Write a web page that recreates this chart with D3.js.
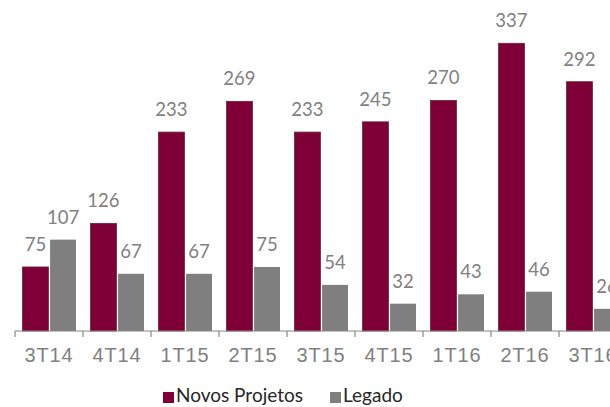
<!DOCTYPE html>
<html>
<head>
<meta charset="utf-8">
<script src="https://cdn.jsdelivr.net/npm/d3@7"></script>
<style>
  body { margin: 0; background: #fff; }
  svg { display: block; }
</style>
</head>
<body>
<div id="chart"></div>
<script>
// values
var categories = ["3T14", "4T14", "1T15", "2T15", "3T15", "4T15", "1T16", "2T16", "3T16"];
var novos = [75, 126, 233, 269, 233, 245, 270, 337, 292];
var legado = [107, 67, 67, 75, 54, 32, 43, 46, 26];
var seriesNames = ["Novos Projetos", "Legado"];
var colors = ["#7f0037", "#7f7f7f"];

var width = 610, height = 407;
var baseY = 331;

var svg = d3.select("#chart").append("svg")
    .attr("width", width)
    .attr("height", height);

var x = d3.scaleBand()
    .domain(categories)
    .range([15, 15 + 68 * categories.length]);

var xs = d3.scaleBand()
    .domain(["novos", "legado"])
    .range([7.5, 61])
    .paddingInner(0.06);

var y = d3.scaleLinear()
    .domain([0, 337])
    .range([baseY, 43.3]);

var rows = categories.map(function(c, i) {
  return { cat: c, novos: novos[i], legado: legado[i] };
});

var groups = svg.append("g").selectAll("g")
    .data(rows)
    .enter().append("g")
    .attr("transform", function(d) { return "translate(" + x(d.cat) + ",0)"; });

// red bars
groups.append("rect")
    .attr("x", xs("novos"))
    .attr("width", xs.bandwidth())
    .attr("y", function(d) { return y(d.novos); })
    .attr("height", function(d) { return baseY - y(d.novos); })
    .attr("fill", colors[0])
    .attr("stroke", "#6a2430")
    .attr("stroke-width", 0.8);

// gray bars
groups.append("rect")
    .attr("x", xs("legado"))
    .attr("width", xs.bandwidth())
    .attr("y", function(d) { return y(d.legado); })
    .attr("height", function(d) { return baseY - y(d.legado); })
    .attr("fill", colors[1]);

// value labels
groups.append("text")
    .attr("x", xs("novos") + xs.bandwidth() / 2)
    .attr("y", function(d) { return y(d.novos) - 16; })
    .attr("text-anchor", "middle")
    .style("font-family", "Lato, 'Open Sans', sans-serif")
    .style("font-size", "18.5px")
    .attr("fill", "#808080")
    .text(function(d) { return d.novos; });

groups.append("text")
    .attr("x", xs("legado") + xs.bandwidth() / 2)
    .attr("y", function(d) { return y(d.legado) - 16; })
    .attr("text-anchor", "middle")
    .style("font-family", "Lato, 'Open Sans', sans-serif")
    .style("font-size", "18.5px")
    .attr("fill", "#808080")
    .text(function(d) { return d.legado; });

// x axis
var axis = svg.append("g").attr("transform", "translate(0," + baseY + ")");
axis.append("line")
    .attr("x1", x.range()[0]).attr("x2", x.range()[1])
    .attr("y1", 0).attr("y2", 0)
    .attr("stroke", "#868686").attr("stroke-width", 1.2);

var bounds = categories.map(function(c) { return x(c); }).concat([x.range()[1]]);
axis.selectAll("line.tick")
    .data(bounds)
    .enter().append("line")
    .attr("class", "tick")
    .attr("x1", function(d) { return d; }).attr("x2", function(d) { return d; })
    .attr("y1", 0).attr("y2", 6)
    .attr("stroke", "#868686").attr("stroke-width", 1.2);

axis.selectAll("text")
    .data(categories)
    .enter().append("text")
    .attr("x", function(d) { return x(d) + x.bandwidth() / 2; })
    .attr("y", 31)
    .attr("text-anchor", "middle")
    .style("font-family", "'Liberation Sans', Arial, sans-serif")
    .style("font-size", "20px")
    .style("letter-spacing", "0.8px")
    .attr("fill", "#808080")
    .text(function(d) { return d; });

// legend
var legendX = [163, 330];
var legend = svg.append("g");
seriesNames.forEach(function(name, i) {
  legend.append("rect")
      .attr("x", legendX[i]).attr("y", 392)
      .attr("width", 11).attr("height", 11)
      .attr("fill", colors[i]);
  legend.append("text")
      .attr("x", legendX[i] + 13).attr("y", 402)
      .style("font-family", "Lato, 'Open Sans', sans-serif")
      .style("font-size", "19px")
      .attr("fill", "#262626")
      .text(name);
});
</script>
</body>
</html>
